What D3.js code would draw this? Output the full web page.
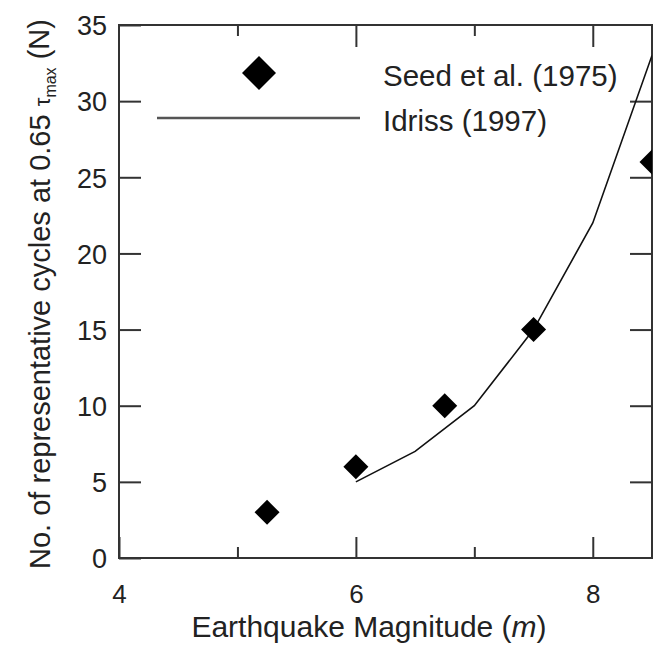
<!DOCTYPE html>
<html>
<head>
<meta charset="utf-8">
<script src="https://cdn.jsdelivr.net/npm/d3@7"></script>
<style>
  html, body { margin: 0; padding: 0; background: #fff; }
  svg { display: block; font-family: "Liberation Sans", Arial, sans-serif; }
</style>
</head>
<body>
<svg id="chart" width="654" height="645"></svg>
<script>
// Seed et al. (1975): representative cycles vs magnitude
const seedMagnitude = [5.25, 6, 6.75, 7.5, 8.5];
const seedCycles = [3, 6, 10, 15, 26];

// Idriss (1997) curve
const idrissMagnitude = [6, 6.5, 7, 7.5, 8, 8.5];
const idrissCycles = [5, 7, 10, 15, 22, 33];

const xMajorTicks = [4, 6, 8];
const xMinorTicks = [5, 7];
const yTicks = [0, 5, 10, 15, 20, 25, 30, 35];

const legendLabels = ["Seed et al. (1975)", "Idriss (1997)"];

const svg = d3.select("#chart");
const W = 654, H = 645;
const margin = { left: 119, right: 2, top: 25, bottom: 87 };
const x0 = margin.left, x1 = W - margin.right;
const y0 = H - margin.bottom, y1 = margin.top;

const x = d3.scaleLinear().domain([4, 8.5]).range([x0, x1]);
const y = d3.scaleLinear().domain([0, 35]).range([y0, y1]);

const axisColor = "#333";

// clip for data marks
svg.append("defs").append("clipPath").attr("id", "plotClip")
  .append("rect").attr("x", x0).attr("y", y1).attr("width", x1 - x0).attr("height", y0 - y1);

// frame
svg.append("rect")
  .attr("x", x0).attr("y", y1)
  .attr("width", x1 - x0).attr("height", y0 - y1)
  .attr("fill", "none").attr("stroke", axisColor).attr("stroke-width", 2);

// Y axis: labels on left, inward ticks on left and right
const yAxisL = d3.axisLeft(y).tickValues(yTicks).tickSize(-22).tickPadding(12).tickFormat(d3.format("d"));
const gyl = svg.append("g").attr("transform", `translate(${x0},0)`).call(yAxisL);
const yAxisR = d3.axisRight(y).tickValues(yTicks.slice(1, -1)).tickSize(-22).tickFormat("");
const gyr = svg.append("g").attr("transform", `translate(${x1},0)`).call(yAxisR);

// X axis: major and minor inward ticks on bottom and top
const xAxisB = d3.axisBottom(x).tickValues(xMajorTicks).tickSize(-21).tickPadding(26.5).tickFormat(d3.format("d"));
const gxb = svg.append("g").attr("transform", `translate(0,${y0})`).call(xAxisB);
const xAxisBm = d3.axisBottom(x).tickValues(xMinorTicks).tickSize(-11).tickFormat("");
const gxbm = svg.append("g").attr("transform", `translate(0,${y0})`).call(xAxisBm);
const xAxisT = d3.axisTop(x).tickValues([6, 8]).tickSize(-22).tickFormat("");
const gxt = svg.append("g").attr("transform", `translate(0,${y1})`).call(xAxisT);
const xAxisTm = d3.axisTop(x).tickValues(xMinorTicks).tickSize(-11).tickFormat("");
const gxtm = svg.append("g").attr("transform", `translate(0,${y1})`).call(xAxisTm);

[gyl, gyr, gxb, gxbm, gxt, gxtm].forEach(g => {
  g.select(".domain").remove();
  g.selectAll(".tick line").attr("stroke", axisColor).attr("stroke-width", 2);
  g.selectAll(".tick text")
    .attr("fill", "#222")
    .style("font-size", "27px")
    .style("font-family", "'Liberation Sans', Arial, sans-serif");
});
gyl.selectAll(".tick text").attr("dy", "0.36em");
gxb.selectAll(".tick text").style("font-size", "26px");

// Idriss curve
const line = d3.line().x((d, i) => x(idrissMagnitude[i])).y(d => y(d));
svg.append("path")
  .datum(idrissCycles)
  .attr("clip-path", "url(#plotClip)")
  .attr("d", line)
  .attr("fill", "none")
  .attr("stroke", "#111")
  .attr("stroke-width", 1.6);

// diamond marker path
const diamond = r => `M0,${-r}L${r},0L0,${r}L${-r},0Z`;

svg.append("g").attr("clip-path", "url(#plotClip)")
  .selectAll("path")
  .data(seedCycles)
  .join("path")
  .attr("transform", (d, i) => `translate(${x(seedMagnitude[i])},${y(d)})`)
  .attr("d", diamond(12.5))
  .attr("fill", "#000");

// legend
const legend = svg.append("g");
legend.append("path")
  .attr("transform", "translate(259,73)")
  .attr("d", diamond(17))
  .attr("fill", "#000");
legend.append("line")
  .attr("x1", 157).attr("x2", 360).attr("y1", 118).attr("y2", 118)
  .attr("stroke", "#555").attr("stroke-width", 2.5);
legend.selectAll("text")
  .data(legendLabels)
  .join("text")
  .attr("x", 383)
  .attr("y", (d, i) => 76 + i * 45)
  .attr("dy", "0.35em")
  .attr("fill", "#222")
  .style("font-size", "29.5px")
  .text(d => d);

// x axis title
const xt = svg.append("text")
  .attr("x", 369)
  .attr("y", 637)
  .attr("text-anchor", "middle")
  .attr("fill", "#222")
  .style("font-size", "30px");
xt.append("tspan").text("Earthquake Magnitude (");
xt.append("tspan").style("font-style", "italic").text("m");
xt.append("tspan").text(")");

// y axis title
const yt = svg.append("text")
  .attr("transform", `translate(40,294) rotate(-90)`)
  .attr("text-anchor", "middle")
  .attr("dy", "0.35em")
  .attr("fill", "#222")
  .style("font-size", "29px");
yt.append("tspan").text("No. of representative cycles at 0.65 ");
yt.append("tspan").style("font-size", "22px").text("τ");
yt.append("tspan").style("font-size", "16px").attr("dy", "0.35em").text("max");
yt.append("tspan").attr("dy", "-0.25em").text(" (N)");
</script>
</body>
</html>
